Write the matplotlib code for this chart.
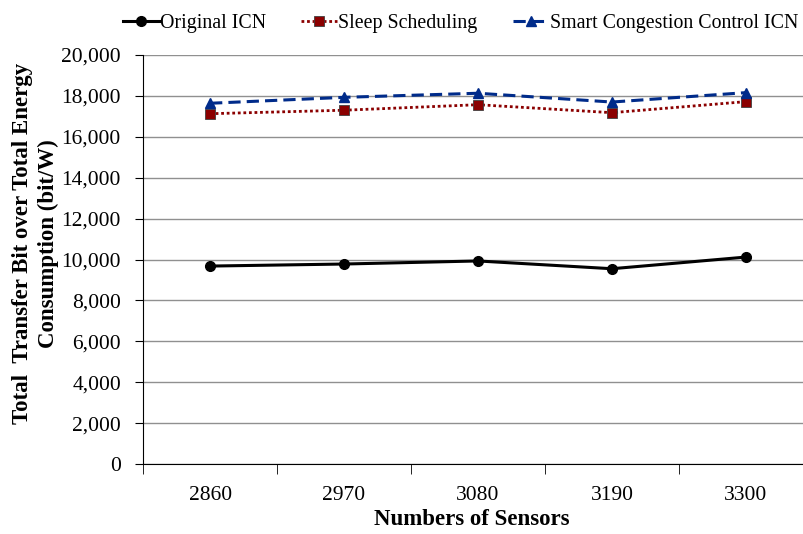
import matplotlib.pyplot as plt
import numpy as np

plt.rcParams['font.family'] = ['Liberation Serif', 'DejaVu Serif']

sensors = ['2860', '2970', '3080', '3190', '3300']
original = [9680, 9780, 9930, 9550, 10120]
sleep = [17130, 17300, 17570, 17180, 17720]
smart = [17640, 17930, 18130, 17700, 18160]

x = np.arange(len(sensors))

fig = plt.figure(figsize=(8.04, 5.34), dpi=100)
ax = fig.add_axes([0.178, 0.131, 0.833, 0.766])

ax.plot(x, original, color='black', marker='o', markersize=7, linewidth=2.2, label='Original ICN')
ax.plot(x, sleep, color='#8b0000', marker='s', markersize=6.5, linewidth=2,
        linestyle=(0, (1, 1)), markeredgecolor='#404040', markeredgewidth=0.6, label='Sleep Scheduling')
ax.plot(x, smart, color='#002b8a', marker='^', markersize=7.5, linewidth=2.2,
        linestyle=(0, (4, 2)), label='Smart Congestion Control ICN')

ax.set_xlim(-0.5, len(sensors) - 0.5)
ax.set_ylim(0, 20000)
ax.set_yticks(np.arange(0, 20001, 2000))
ax.set_yticklabels(['{:,}'.format(v) for v in range(0, 20001, 2000)], fontsize=15.5)
ax.set_xticks(x)
ax.set_xticklabels(sensors, fontsize=15.5)
ax.set_xticks(np.arange(-0.5, len(sensors), 1), minor=True)
ax.tick_params(axis='x', which='major', length=0, pad=16)
ax.tick_params(axis='x', which='minor', length=7, direction='out')
ax.tick_params(axis='y', length=6, direction='out', pad=10)

ax.grid(axis='y', color='#909090', linewidth=1)
ax.set_axisbelow(True)
ax.spines['top'].set_visible(False)
ax.spines['right'].set_visible(False)

ax.set_xlabel('Numbers of Sensors', fontsize=16.5, fontweight='bold')
ax.xaxis.set_label_coords(0.49, -0.11)
ax.set_ylabel('Total  Transfer Bit over Total Energy\nConsumption (bit/W)', fontsize=16.5,
              fontweight='bold', linespacing=1.3)
ax.yaxis.set_label_coords(-0.125, 0.54)

ax.legend(loc='lower center', bbox_to_anchor=(0.474, 1.01), ncol=3, frameon=False,
          fontsize=14.3, handlelength=1.8, handletextpad=0.05, columnspacing=1.8)

fig.savefig('out.png')
